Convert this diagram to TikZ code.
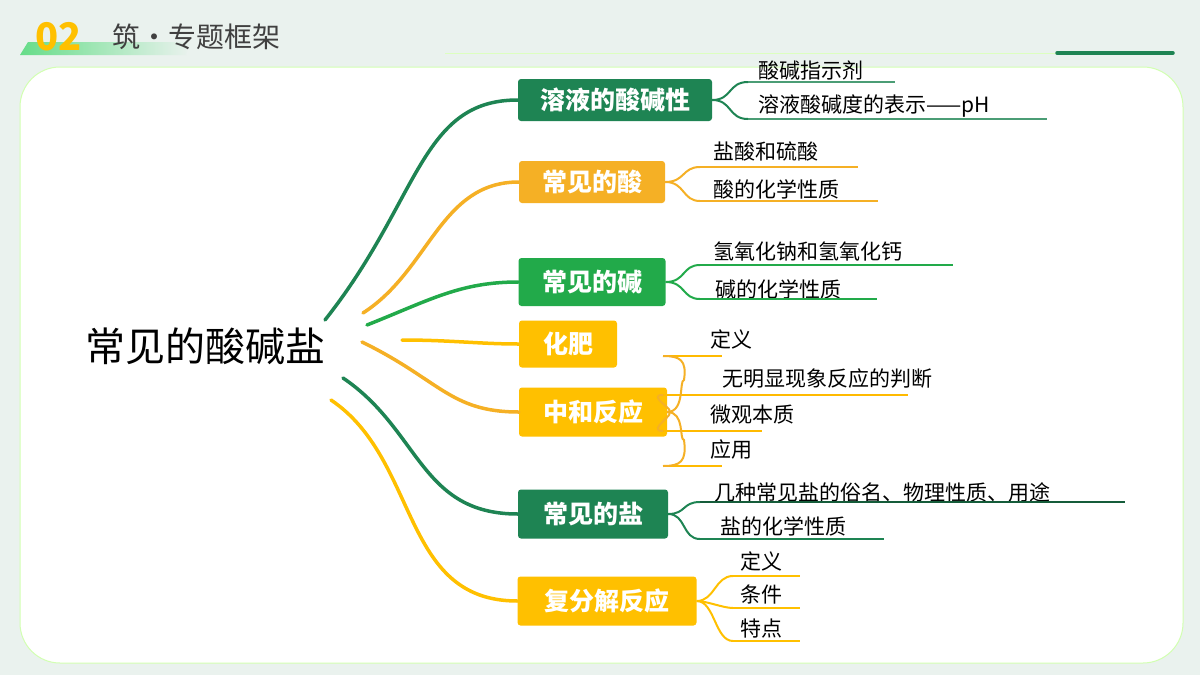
\documentclass[tikz,border=0pt]{standalone}
\usepackage{fontspec}
\setmainfont{Noto Sans CJK SC}
\begin{document}
\begin{tikzpicture}[x=1pt,y=-1pt,
  br/.style={rounded corners=3pt,text=white,font=\fontsize{25}{25}\selectfont\bfseries,inner sep=0pt,anchor=center},
  leaf/.style={anchor=south west,inner sep=1.5pt,font=\fontsize{21}{21}\selectfont,text=black},
  con/.style={line width=3.5pt,line cap=round},
  sub/.style={line width=2pt},
  ul/.style={line width=1.2pt}]
\definecolor{dg}{HTML}{1E8453}
\definecolor{lg}{HTML}{22AA4A}
\definecolor{og}{HTML}{F5B025}
\definecolor{yl}{HTML}{FFC000}
\definecolor{bgc}{HTML}{EAF2EE}
\useasboundingbox (0,0) rectangle (1200,675);
\fill[bgc] (0,0) rectangle (1200,675);
\filldraw[fill=white,draw=green!45!lime!30,line width=1pt,rounded corners=40pt] (20,67) rectangle (1183,663);
% header
\shade[left color=green!55!teal!60,right color=bgc] (28,42) -- (190,42) -- (186,55) -- (20,55) -- cycle;
\node[anchor=west,inner sep=0pt,text=yl,font=\fontsize{38}{38}\selectfont\bfseries] (num) at (35,37) {02};
\node[anchor=west,inner sep=0pt,text=black!75,font=\fontsize{28}{28}\selectfont] (ttl) at (112,37) {筑·专题框架};
\draw[green!40!lime!25,line width=1pt] (445,53) -- (1060,53);
\draw[dg,line width=3.5pt,line cap=round] (1057,53) -- (1173,53);
% root
\node[font=\fontsize{40}{40}\selectfont,inner sep=0pt] (root) at (205,346) {常见的酸碱盐};
% branches
\node[br,fill=dg,minimum width=194pt,minimum height=42pt] (n1) at (615,100) {溶液的酸碱性};
\node[br,fill=og,minimum width=146pt,minimum height=42pt] (n2) at (592,182) {常见的酸};
\node[br,fill=lg,minimum width=147pt,minimum height=48pt] (n3) at (592,282) {常见的碱};
\node[br,fill=yl,minimum width=98pt,minimum height=47pt] (n4) at (568,344) {化肥};
\node[br,fill=yl,minimum width=148pt,minimum height=49pt] (n5) at (593,412) {中和反应};
\node[br,fill=dg,minimum width=150pt,minimum height=49pt] (n6) at (593,514) {常见的盐};
\node[br,fill=yl,minimum width=179pt,minimum height=49pt] (n7) at (607,601) {复分解反应};
% root connectors
\coordinate (r1) at (325,320); \coordinate (r2) at (363,313); \coordinate (r3) at (367,325);
\coordinate (r4) at (402,340); \coordinate (r5) at (362,342); \coordinate (r6) at (343,378);
\coordinate (r7) at (331,400);
\draw[con,dg] (r1) .. controls (420,200) and (420,100) .. (n1.west);
\draw[con,og] (r2) .. controls (430,270) and (440,182) .. (n2.west);
\draw[con,lg] (r3) .. controls (430,300) and (460,282) .. (n3.west);
\draw[con,yl] (r4) .. controls (450,340) and (480,344) .. (n4.west);
\draw[con,og] (r5) .. controls (440,380) and (450,412) .. (n5.west);
\draw[con,dg] (r6) .. controls (420,430) and (420,514) .. (n6.west);
\draw[con,yl] (r7) .. controls (420,460) and (400,601) .. (n7.west);
% leaves 1
\coordinate (s11) at (748,82); \coordinate (e11) at (895,82);
\coordinate (s12) at (748,119); \coordinate (e12) at (1047,119);
\node[leaf] (t11) at (757,82) {酸碱指示剂};
\node[leaf] (t12) at (757,119) {溶液酸碱度的表示——pH};
\draw[ul,dg!80] (s11) -- (e11); \draw[ul,dg!80] (s12) -- (e12);
\draw[sub,dg] (n1.east) .. controls +(20,0) and +(-20,0) .. (s11);
\draw[sub,dg] (n1.east) .. controls +(20,0) and +(-20,0) .. (s12);
% leaves 2
\coordinate (s21) at (700,167); \coordinate (e21) at (858,167);
\coordinate (s22) at (700,201); \coordinate (e22) at (878,201);
\node[leaf] (t21) at (712,163) {盐酸和硫酸};
\node[leaf] (t22) at (712,201) {酸的化学性质};
\draw[ul,og] (s21) -- (e21); \draw[ul,og] (s22) -- (e22);
\draw[sub,og] (n2.east) .. controls +(20,0) and +(-18,0) .. (s21);
\draw[sub,og] (n2.east) .. controls +(20,0) and +(-18,0) .. (s22);
% leaves 3
\coordinate (s31) at (700,265); \coordinate (e31) at (953,265);
\coordinate (s32) at (700,299); \coordinate (e32) at (877,299);
\node[leaf] (t31) at (712,263) {氢氧化钠和氢氧化钙};
\node[leaf] (t32) at (714,301) {碱的化学性质};
\draw[ul,lg] (s31) -- (e31); \draw[ul,lg] (s32) -- (e32);
\draw[sub,lg] (n3.east) .. controls +(20,0) and +(-18,0) .. (s31);
\draw[sub,lg] (n3.east) .. controls +(20,0) and +(-18,0) .. (s32);
% leaves 5
\coordinate (s51) at (663,356); \coordinate (e51) at (722,356);
\coordinate (s52) at (663,395); \coordinate (e52) at (908,395);
\coordinate (s53) at (663,431); \coordinate (e53) at (762,431);
\coordinate (s54) at (663,466); \coordinate (e54) at (722,466);
\node[leaf] (t51) at (709,351) {定义};
\node[leaf] (t52) at (721,390) {无明显现象反应的判断};
\node[leaf] (t53) at (709,426) {微观本质};
\node[leaf] (t54) at (709,461) {应用};
\foreach \i in {1,2,3,4}{\draw[ul,yl!90!orange] (s5\i) -- (e5\i);}
\draw[sub,og] (n5.east) .. controls +(18,0) and +(-5,0) .. (684,380) .. controls (687,360) and (680,356) .. (s51);
\draw[sub,og] (n5.east) .. controls +(12,0) and +(-18,0) .. (s52);
\draw[sub,og] (n5.east) .. controls +(12,0) and +(-18,0) .. (s53);
\draw[sub,og] (n5.east) .. controls +(18,0) and +(-5,0) .. (684,440) .. controls (687,462) and (680,466) .. (s54);
% leaves 6
\coordinate (s61) at (700,502); \coordinate (e61) at (1125,502);
\coordinate (s62) at (700,539); \coordinate (e62) at (884,539);
\node[leaf] (t61) at (713,504) {几种常见盐的俗名、物理性质、用途};
\node[leaf] (t62) at (719,538) {盐的化学性质};
\draw[line width=2pt,dg!70!black] (s61) -- (e61); \draw[ul,dg] (s62) -- (e62);
\draw[sub,dg] (n6.east) .. controls +(18,0) and +(-18,0) .. (s61);
\draw[sub,dg] (n6.east) .. controls +(18,0) and +(-18,0) .. (s62);
% leaves 7
\coordinate (s71) at (733,576); \coordinate (e71) at (800,576);
\coordinate (s72) at (733,608); \coordinate (e72) at (800,608);
\coordinate (s73) at (733,641); \coordinate (e73) at (800,641);
\node[leaf] (t71) at (739,573) {定义};
\node[leaf] (t72) at (739,606) {条件};
\node[leaf] (t73) at (739,640) {特点};
\foreach \i in {1,2,3}{\draw[ul,yl] (s7\i) -- (e7\i);}
\draw[sub,yl] (n7.east) .. controls +(18,0) and +(-18,0) .. (s71);
\draw[sub,yl] (n7.east) .. controls +(10,0) and +(-10,0) .. (s72);
\draw[sub,yl] (n7.east) .. controls +(18,0) and +(-18,0) .. (s73);
\end{tikzpicture}
\end{document}
